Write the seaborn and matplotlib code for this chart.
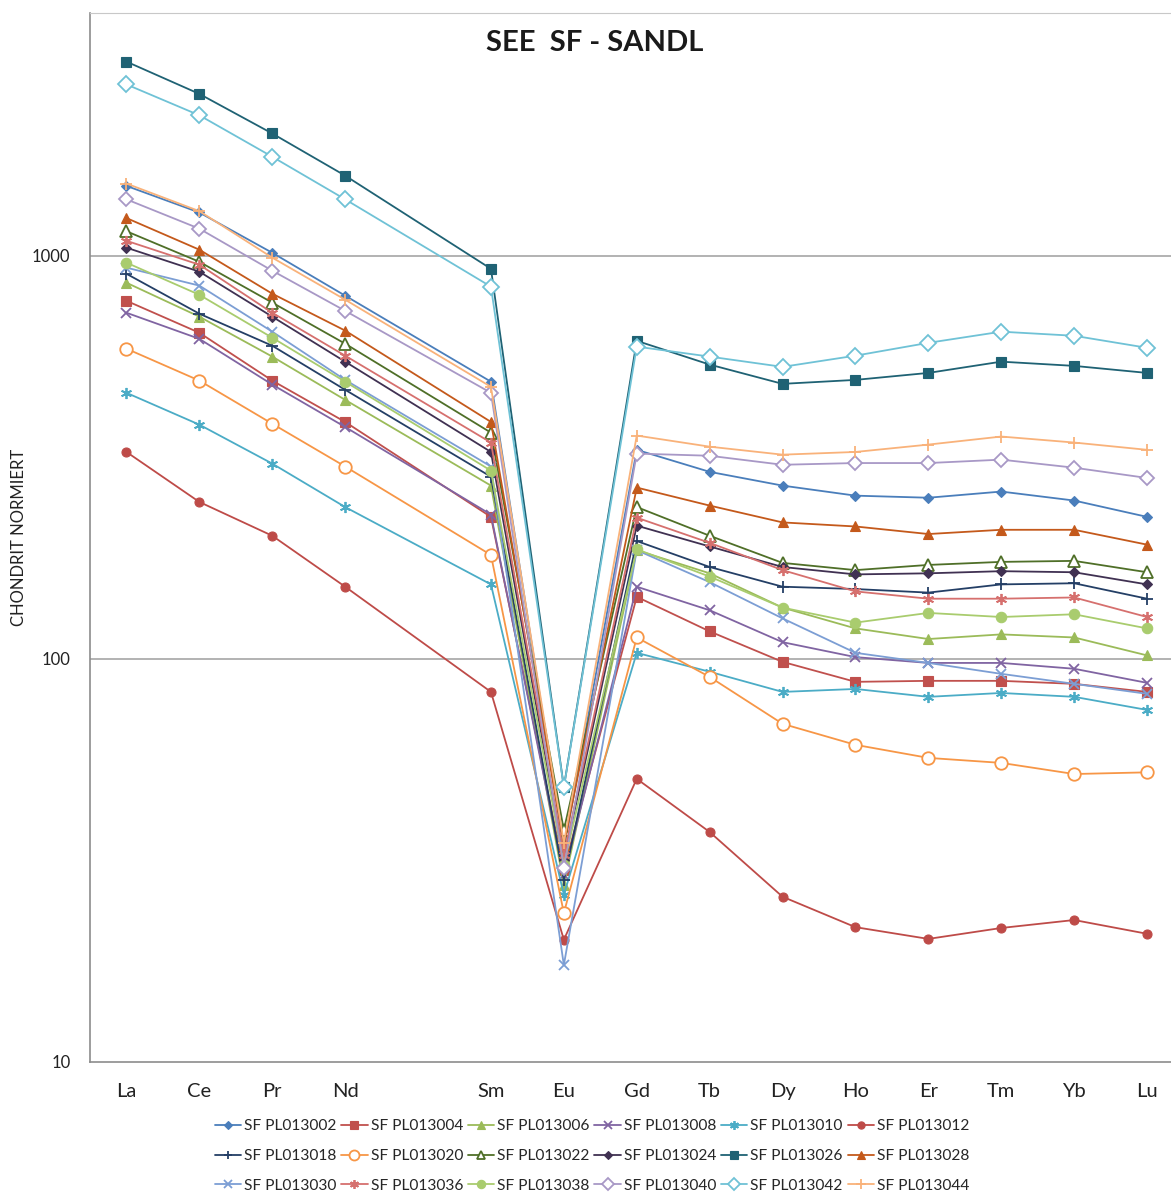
import numpy as np
import pandas as pd
import matplotlib.pyplot as plt
import seaborn as sns
from matplotlib.ticker import FixedLocator, NullFormatter

# REE pattern, chondrite normalised. Pm slot is empty (no data, blank label)
elements = ["La", "Ce", "Pr", "Nd", "", "Sm", "Eu", "Gd", "Tb", "Dy", "Ho", "Er", "Tm", "Yb", "Lu"]
nan = np.nan

sf_013002 = [1490, 1280, 1017, 796, nan, 487, 33.6, 330, 291, 269, 254, 251, 260, 247, 225]
sf_013004 = [773, 644, 490, 387, nan, 225, 30.0, 142.5, 117, 98.3, 87.7, 88.2, 88.2, 86.7, 82.8]
sf_013006 = [857, 706, 562, 439, nan, 269, 27.5, 186, 163, 134, 119, 112, 115, 113, 102]
sf_013008 = [722, 622, 479, 376, nan, 228, 29.1, 151, 132, 110, 101, 97.7, 97.7, 94.5, 87.2]
sf_013010 = [457, 381, 305, 238, nan, 153, 26.0, 103.5, 92.9, 82.8, 84.2, 80.5, 82.3, 80.5, 74.7]
sf_013012 = [326, 245, 202, 151, nan, 82.8, 20.1, 50.4, 37.2, 25.7, 21.6, 20.2, 21.5, 22.5, 20.8]
sf_013018 = [902, 718, 598, 465, nan, 283, 28.3, 196, 169, 151, 149, 146, 153, 154, 141]
sf_013020 = [588, 490, 383, 300, nan, 181, 23.4, 113, 90.2, 69.0, 61.2, 56.8, 55.2, 51.8, 52.3]
sf_013022 = [1150, 966, 765, 605, nan, 364, 37.6, 238, 202, 173, 166, 171, 174, 175, 164]
sf_013024 = [1047, 913, 706, 546, nan, 326, 31.7, 214, 190, 169, 162, 163, 165, 164, 153]
sf_013026 = [3030, 2520, 2010, 1580, nan, 928, 48.1, 615, 537, 481, 492, 512, 546, 533, 512]
sf_013028 = [1240, 1035, 805, 652, nan, 387, 34.6, 266, 240, 218, 213, 204, 209, 209, 192]
sf_013030 = [934, 843, 648, 492, nan, 300, 17.4, 186, 155, 126, 103.5, 97.7, 91.8, 86.7, 81.9]
sf_013036 = [1089, 950, 722, 565, nan, 344, 32.6, 224, 194, 166, 147, 141, 141, 142, 127]
sf_013038 = [961, 800, 626, 487, nan, 293, 30.8, 187, 160, 134, 123, 130, 127, 129, 119]
sf_013040 = [1380, 1167, 918, 730, nan, 457, 30.3, 323, 319, 303, 306, 306, 312, 298, 281]
sf_013042 = [2660, 2230, 1760, 1380, nan, 838, 48.0, 595, 562, 530, 565, 608, 648, 633, 591]
sf_013044 = [1510, 1290, 989, 778, nan, 473, 35.0, 358, 336, 321, 326, 340, 356, 344, 330]

samples = {
    "SF PL013002": sf_013002, "SF PL013004": sf_013004, "SF PL013006": sf_013006,
    "SF PL013008": sf_013008, "SF PL013010": sf_013010, "SF PL013012": sf_013012,
    "SF PL013018": sf_013018, "SF PL013020": sf_013020, "SF PL013022": sf_013022,
    "SF PL013024": sf_013024, "SF PL013026": sf_013026, "SF PL013028": sf_013028,
    "SF PL013030": sf_013030, "SF PL013036": sf_013036, "SF PL013038": sf_013038,
    "SF PL013040": sf_013040, "SF PL013042": sf_013042, "SF PL013044": sf_013044,
}

star = (6, 2, 0)
# colour, marker, size, filled
styles = {
    "SF PL013002": ("#4A7EBB", "D", 5.5, True),
    "SF PL013004": ("#C0504D", "s", 6.5, True),
    "SF PL013006": ("#9BBB59", "^", 7, True),
    "SF PL013008": ("#8064A2", "x", 7, True),
    "SF PL013010": ("#4BACC6", star, 8, True),
    "SF PL013012": ("#BE4B48", "o", 6.5, True),
    "SF PL013018": ("#243F66", "+", 8, True),
    "SF PL013020": ("#F79646", "o", 9, False),
    "SF PL013022": ("#4F6F28", "^", 8, False),
    "SF PL013024": ("#403152", "D", 5.5, True),
    "SF PL013026": ("#1F6274", "s", 7, True),
    "SF PL013028": ("#C4591B", "^", 7.5, True),
    "SF PL013030": ("#7C9ED4", "x", 7, True),
    "SF PL013036": ("#D6706E", star, 8, True),
    "SF PL013038": ("#A9CC6E", "o", 7.5, True),
    "SF PL013040": ("#A898C6", "D", 7.5, False),
    "SF PL013042": ("#6FC2D6", "D", 8, False),
    "SF PL013044": ("#F9B27A", "+", 9, True),
}

rows = []
for name, vals in samples.items():
    for i, v in enumerate(vals):
        rows.append({"sample": name, "pos": i, "value": v})
df = pd.DataFrame(rows).dropna()

sns.set_style("white")
plt.rcParams["font.family"] = ["Lato", "DejaVu Sans"]

fig = plt.figure(figsize=(11.71, 11.96), dpi=100)
ax = fig.add_axes([90 / 1171, 134 / 1196, (1183.5 - 90) / 1171, (1062 - 13) / 1196])

for name in samples:
    color, mk, ms, filled = styles[name]
    sub = df[df["sample"] == name]
    sns.lineplot(data=sub, x="pos", y="value", ax=ax, color=color, marker=mk,
                 markersize=ms, markerfacecolor=color if filled else "white",
                 markeredgecolor=color, markeredgewidth=1.3 if not filled or mk in ("x", "+", star) else 0.8,
                 linewidth=1.3, label=name, estimator=None, sort=False, legend=False)

ax.set_yscale("log")
ax.set_ylim(10, 4000)
ax.set_xlim(-0.5, len(elements) - 0.5)

ax.yaxis.set_major_locator(FixedLocator([10, 100, 1000]))
ax.set_yticklabels(["10", "100", "1000"])
ax.yaxis.set_minor_formatter(NullFormatter())
ax.yaxis.set_minor_locator(FixedLocator([]))
ax.tick_params(axis="y", length=0, pad=14, labelsize=12, labelcolor="#222222")

ax.set_xticks(range(len(elements)))
ax.set_xticklabels(elements)
ax.set_xticks(np.arange(0.5, len(elements) - 1, 1.0), minor=True)
ax.tick_params(axis="x", which="major", length=0, pad=15, labelsize=14.5, labelcolor="#222222")
ax.tick_params(axis="x", which="minor", direction="in", length=7, color="#D0D0D0", width=1)

ax.grid(False)
for yv in (100, 1000):
    ax.axhline(yv, color="#A6A6A6", linewidth=1.2, zorder=0)

for side in ("left", "bottom"):
    ax.spines[side].set_color("#8C8C8C")
    ax.spines[side].set_linewidth(1.2)
ax.spines["top"].set_color("#C8C8C8")
ax.spines["right"].set_visible(False)

ax.set_xlabel("")
ax.set_ylabel("CHONDRIT NORMIERT", fontsize=12, color="#222222")
ax.yaxis.set_label_coords((27 - 90) / 1093.5, 0.5)

ax.text(0.4612, 0.984, "SEE  SF - SANDL", transform=ax.transAxes, ha="center", va="top",
        fontsize=21, fontweight="bold", color="#1A1A1A")

handles, labels = ax.get_legend_handles_labels()
ncol, nrow = 6, 3
order = [r * ncol + c for c in range(ncol) for r in range(nrow)]
fig.legend([handles[i] for i in order], [labels[i] for i in order],
           loc="center", bbox_to_anchor=(592 / 1171, 1 - 1156 / 1196), ncol=ncol,
           frameon=False, fontsize=11.2, handlelength=1.7, handletextpad=0.2,
           columnspacing=0.3, labelspacing=1.0, markerscale=0.8)

fig.savefig("out.png", dpi=100)
